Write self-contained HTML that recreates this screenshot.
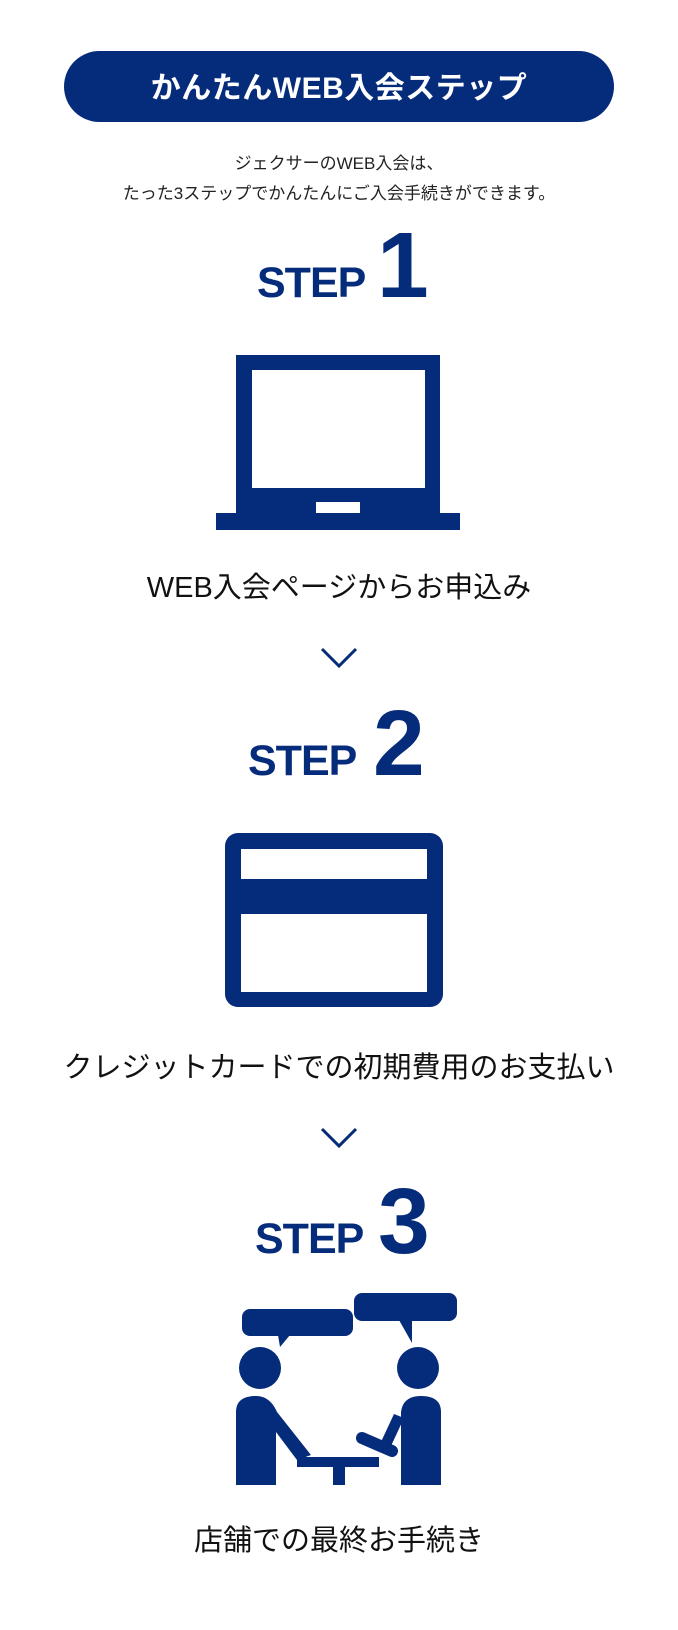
<!DOCTYPE html>
<html><head><meta charset="utf-8"><style>
html,body{margin:0;padding:0;background:#fff;}
svg{display:block;}
text{font-family:"Liberation Sans","Noto Sans CJK JP",sans-serif;}
</style></head><body>
<svg width="678" height="1630" viewBox="0 0 678 1630" xmlns="http://www.w3.org/2000/svg">
<g fill="#052b7b">
<rect x="64" y="51" width="550" height="71" rx="35.5"/>
</g>
<text x="339" y="98" text-anchor="middle" fill="#fff" font-size="30" font-weight="bold" letter-spacing="0.5">かんたんWEB入会ステップ</text>
<text x="339" y="169" text-anchor="middle" fill="#222" font-size="17">ジェクサーのWEB入会は、</text>
<text x="339" y="199" text-anchor="middle" fill="#222" font-size="17">たった3ステップでかんたんにご入会手続きができます。</text>

<!-- STEP 1 -->
<g fill="#052b7b" font-weight="bold">
<text x="257" y="297" font-size="43" letter-spacing="-1">STEP</text>
<text x="377" y="297" font-size="93">1</text>
</g>
<!-- laptop -->
<g fill="#052b7b">
<rect x="236" y="355" width="204" height="160"/>
<rect x="216" y="513" width="244" height="17"/>
</g>
<rect x="252" y="370" width="173" height="118" fill="#fff"/>
<rect x="316" y="502" width="44" height="11" fill="#fff"/>
<text x="339" y="597" text-anchor="middle" fill="#111" font-size="29">WEB入会ページからお申込み</text>
<polyline points="322,649 339,666 356,649" fill="none" stroke="#052b7b" stroke-width="3"/>

<!-- STEP 2 -->
<g fill="#052b7b" font-weight="bold">
<text x="248" y="775" font-size="43" letter-spacing="-1">STEP</text>
<text x="373" y="775" font-size="93">2</text>
</g>
<rect x="225" y="833" width="218" height="174" rx="13" fill="#052b7b"/>
<rect x="241" y="849" width="186" height="30" fill="#fff"/>
<rect x="241" y="914" width="186" height="78" fill="#fff"/>
<text x="339" y="1077" text-anchor="middle" fill="#111" font-size="29">クレジットカードでの初期費用のお支払い</text>
<polyline points="322,1129 339,1146 356,1129" fill="none" stroke="#052b7b" stroke-width="3"/>

<!-- STEP 3 -->
<g fill="#052b7b" font-weight="bold">
<text x="255" y="1253" font-size="43" letter-spacing="-1">STEP</text>
<text x="378" y="1253" font-size="93">3</text>
</g>
<g fill="#052b7b">
<rect x="242" y="1309" width="111" height="27" rx="8"/>
<polygon points="278,1335 290,1335 280,1347"/>
<rect x="354" y="1293" width="103" height="28" rx="8"/>
<polygon points="399,1320 412,1320 412,1343"/>
<circle cx="260" cy="1368" r="21"/>
<circle cx="418" cy="1368" r="21"/>
<path d="M236,1485 L236,1412 Q236,1396 256,1396 Q270,1396 277,1412 L311,1455 L297,1460 L276,1432 L276,1485 Z"/>
<rect x="297" y="1457" width="82" height="10"/>
<rect x="333" y="1466" width="12" height="19"/>
<path d="M401,1485 L401,1412 Q403,1396 421,1396 Q441,1396 441,1412 L441,1485 Z"/>
<path d="M404,1418 L391,1446 L380,1444 L394,1414 Z"/>
<line x1="362" y1="1438" x2="392" y2="1451" stroke="#052b7b" stroke-width="12" stroke-linecap="round"/>
</g>
<text x="339" y="1550" text-anchor="middle" fill="#111" font-size="29">店舗での最終お手続き</text>
</svg>
</body></html>
